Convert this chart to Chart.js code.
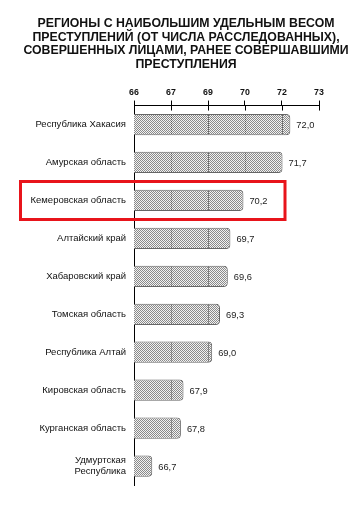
<!DOCTYPE html>
<html>
<head>
<meta charset="utf-8">
<script src="https://cdn.jsdelivr.net/npm/chart.js@4/dist/chart.umd.min.js"></script>
<style>
  html, body { margin: 0; padding: 0; background: #fff; }
  #wrap { width: 364px; height: 518px; position: relative; }
</style>
</head>
<body>
<div id="wrap"><canvas id="chart"></canvas></div>
<script>
const titleLines = [
  "РЕГИОНЫ С НАИБОЛЬШИМ УДЕЛЬНЫМ ВЕСОМ",
  "ПРЕСТУПЛЕНИЙ (ОТ ЧИСЛА РАССЛЕДОВАННЫХ),",
  "СОВЕРШЕННЫХ ЛИЦАМИ, РАНЕЕ СОВЕРШАВШИМИ",
  "ПРЕСТУПЛЕНИЯ",
];
const regions = [
  "Республика Хакасия",
  "Амурская область",
  "Кемеровская область",
  "Алтайский край",
  "Хабаровский край",
  "Томская область",
  "Республика Алтай",
  "Кировская область",
  "Курганская область",
  ["Удмуртская", "Республика"],
];
const shares = [72.0, 71.7, 70.2, 69.7, 69.6, 69.3, 69.0, 67.9, 67.8, 66.7];
const axisMin = 66;
const axisMax = 73.1;
const axisStep = 1.42; // labels come out as 66, 67, 69, 70, 72, 73
const highlightIndex = 2;

const FONT = "'Liberation Sans', Arial, sans-serif";

// dotted fill like the original print
function makePattern() {
  const c = document.createElement("canvas");
  c.width = 2;
  c.height = 2;
  const p = c.getContext("2d");
  p.fillStyle = "#f2f2f2";
  p.fillRect(0, 0, 2, 2);
  p.fillStyle = "#8a8a8a";
  p.fillRect(0, 0, 1, 1);
  p.fillRect(1, 1, 1, 1);
  return p.createPattern(c, "repeat");
}

// title is drawn by hand: the built-in one squeezes long lines to the box width
const titleText = {
  id: "titleText",
  afterDraw(chart) {
    const ctx = chart.ctx;
    ctx.save();
    ctx.fillStyle = "#111";
    ctx.font = "bold 12.3px " + FONT;
    ctx.textAlign = "center";
    ctx.textBaseline = "alphabetic";
    titleLines.forEach((line, i) => {
      ctx.fillText(line, 186, 27 + i * 13.5);
    });
    ctx.restore();
  },
};

const barExtras = {
  id: "barExtras",
  afterDatasetsDraw(chart) {
    const ctx = chart.ctx;
    const xs = chart.scales.x;
    const meta = chart.getDatasetMeta(0);
    ctx.save();
    // grid lines only visible inside the bars
    ctx.strokeStyle = "#555";
    ctx.lineWidth = 1;
    ctx.setLineDash([1, 1]);
    meta.data.forEach((bar, i) => {
      const h = bar.height / 2 - 1;
      xs.ticks.forEach((t) => {
        if (t.value > axisMin && t.value < shares[i] - 0.1) {
          const px = Math.round(xs.getPixelForValue(t.value)) + 0.5;
          ctx.beginPath();
          ctx.moveTo(px, bar.y - h);
          ctx.lineTo(px, bar.y + h);
          ctx.stroke();
        }
      });
    });
    ctx.setLineDash([]);
    // value labels
    ctx.fillStyle = "#222";
    ctx.font = "9.3px " + FONT;
    ctx.textBaseline = "middle";
    ctx.textAlign = "left";
    meta.data.forEach((bar, i) => {
      ctx.fillText(shares[i].toFixed(1).replace(".", ","), bar.x + 6, bar.y + 1);
    });
    // tick marks crossing the top axis line
    ctx.strokeStyle = "#000";
    const top = chart.chartArea.top;
    xs.ticks.forEach((t) => {
      const px = Math.round(xs.getPixelForValue(t.value)) + 0.5;
      ctx.beginPath();
      ctx.moveTo(px, top);
      ctx.lineTo(px, top + 5);
      ctx.stroke();
    });
    // red frame around the highlighted region
    const ys = chart.scales.y;
    const cy = ys.getPixelForValue(highlightIndex);
    const half = ys.height / shares.length / 2;
    const right = xs.getPixelForValue(axisMax) - 34;
    ctx.strokeStyle = "#e8141b";
    ctx.lineWidth = 3;
    ctx.strokeRect(20.5, Math.round(cy - half) + 0.5, right - 20.5, Math.round(half * 2));
    ctx.restore();
  },
};

new Chart(document.getElementById("chart"), {
  type: "bar",
  data: {
    labels: regions,
    datasets: [
      {
        data: shares,
        backgroundColor: makePattern(),
        borderColor: "#666",
        borderWidth: 1,
        borderSkipped: "start",
        borderRadius: { topLeft: 0, bottomLeft: 0, topRight: 4, bottomRight: 4 },
        barPercentage: 0.56,
        categoryPercentage: 1,
      },
    ],
  },
  options: {
    indexAxis: "y",
    responsive: true,
    maintainAspectRatio: false,
    animation: false,
    layout: { padding: { left: 0, right: 45, top: 84, bottom: 33 } },
    plugins: {
      legend: { display: false },
      tooltip: { enabled: false },
      title: { display: false },
    },
    scales: {
      x: {
        position: "top",
        min: axisMin,
        max: axisMax,
        ticks: {
          stepSize: axisStep,
          color: "#111",
          padding: 3,
          font: { family: FONT, size: 8.8, weight: "bold" },
          callback: (v) => Math.round(v).toString(),
        },
        grid: { drawOnChartArea: false, drawTicks: true, tickLength: 5, color: "#000" },
        border: { display: true, color: "#000", width: 1 },
      },
      y: {
        afterFit: (scale) => { scale.width = 134; },
        ticks: {
          color: "#111",
          padding: 8,
          font: { family: FONT, size: 9.5 },
        },
        grid: { display: false, drawTicks: false },
        border: { display: true, color: "#000", width: 1 },
      },
    },
  },
  plugins: [barExtras, titleText],
});
</script>
</body>
</html>
